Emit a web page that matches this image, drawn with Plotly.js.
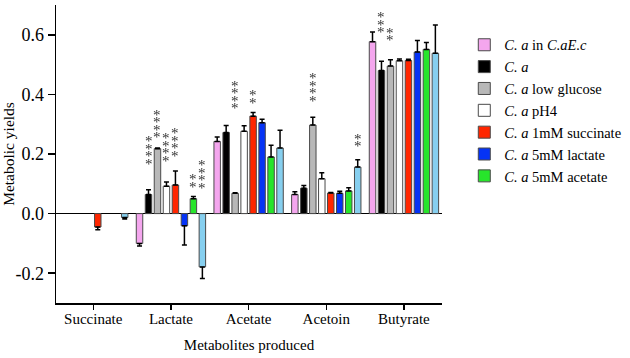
<!DOCTYPE html>
<html>
<head>
<meta charset="utf-8">
<script src="https://cdn.plot.ly/plotly-3.0.1.min.js"></script>
<style>
  html, body { margin: 0; padding: 0; background: #fff; }
  #chart { width: 630px; height: 358px; }
  /* greyscale text rendering for the significance stars */
  #chart .annotation { filter: grayscale(100%); opacity: 0.99; }
</style>
</head>
<body>
<div id="chart"></div>
<script>
// Metabolites on the x axis
const metabolites = ['Succinate', 'Lactate', 'Acetate', 'Acetoin', 'Butyrate'];

// Culture conditions (legend labels); the last one has no legend entry
const conditionNames = [
  '<i>C. a</i> in <i>C.aE.c</i>',
  '<i>C. a</i>',
  '<i>C. a</i> low glucose',
  '<i>C. a</i> pH4',
  '<i>C. a</i> 1mM succinate',
  '<i>C. a</i> 5mM lactate',
  '<i>C. a</i> 5mM acetate',
  'C. a (additional)'
];

// Mean metabolic yields per metabolite (null = not detected)
const yieldCoculture  = [null, -0.100, 0.242, 0.064, 0.577];
const yieldMono       = [null,  0.064, 0.272, 0.085, 0.480];
const yieldLowGlucose = [null,  0.218, 0.068, 0.297, 0.495];
const yieldPH4        = [null,  0.092, 0.276, 0.117, 0.513];
const yieldSuccinate  = [-0.045, 0.096, 0.327, 0.069, 0.514];
const yieldLactate    = [null, -0.041, 0.305, 0.068, 0.542];
const yieldAcetate    = [null,  0.050, 0.190, 0.076, 0.551];
const yieldExtra      = [-0.013, -0.179, 0.220, 0.156, 0.538];

// Error (SD) per metabolite
const errCoculture  = [0.000, 0.009, 0.015, 0.009, 0.032];
const errMono       = [0.000, 0.016, 0.024, 0.009, 0.031];
const errLowGlucose = [0.000, 0.002, 0.002, 0.026, 0.021];
const errPH4        = [0.000, 0.014, 0.019, 0.020, 0.006];
const errSuccinate  = [0.009, 0.047, 0.012, 0.002, 0.004];
const errLactate    = [0.000, 0.064, 0.012, 0.007, 0.039];
const errAcetate    = [0.000, 0.007, 0.039, 0.011, 0.023];
const errExtra      = [0.005, 0.039, 0.060, 0.025, 0.095];

// Significance marks: metabolite index, condition index, number of stars
const sigMetabolite = [1, 1, 1, 1, 1, 1, 2, 2, 3, 3, 4, 4];
const sigCondition  = [1, 2, 3, 4, 6, 7, 2, 4, 2, 7, 1, 2];
const sigStars      = [4, 4, 4, 4, 2, 4, 4, 2, 4, 2, 3, 2];

// Y axis ticks
const yTickVals = [-0.2, 0, 0.2, 0.4, 0.6];
const yTickText = ['-0.2', '0.0', '0.2', '0.4', '0.6'];

const allYields = [yieldCoculture, yieldMono, yieldLowGlucose, yieldPH4,
                   yieldSuccinate, yieldLactate, yieldAcetate, yieldExtra];
const allErrors = [errCoculture, errMono, errLowGlucose, errPH4,
                   errSuccinate, errLactate, errAcetate, errExtra];

const fillColors = ['#F4A6EE', '#000000', '#B8B8B8', '#FFFFFF',
                    '#FF2600', '#0533F5', '#27E52B', '#86CFEF'];

const FONT = 'Liberation Serif, Times New Roman, serif';
const BARGAP = 0.075;

const traces = allYields.map((vals, i) => {
  const err = allErrors[i];
  return {
    type: 'bar',
    name: conditionNames[i],
    x: metabolites,
    y: vals,
    showlegend: i < 7,
    marker: { color: fillColors[i], line: { color: '#4a4a4a', width: 1 } },
    error_y: {
      type: 'data',
      symmetric: false,
      array: vals.map((v, k) => v !== null && v >= 0 ? err[k] : 0),
      arrayminus: vals.map((v, k) => v !== null && v < 0 ? err[k] : 0),
      color: '#000',
      thickness: 1.5,
      width: 2.5
    },
    hoverinfo: 'skip'
  };
});

// Vertical centre of each star stack (data units)
const starLevels = [0.215, 0.304, 0.226, 0.242, 0.113, 0.134, 0.401, 0.395, 0.426, 0.249, 0.643, 0.604];
const STAR_PITCH = 7.5;   // px between stacked stars

const nCond = allYields.length;
const slot = (1 - BARGAP) / nCond;
const annotations = [];
sigStars.forEach((n, j) => {
  const xPos = sigMetabolite[j] + (sigCondition[j] - (nCond - 1) / 2) * slot;
  for (let k = 0; k < n; k++) {
    annotations.push({
      x: xPos, y: starLevels[j],
      xref: 'x', yref: 'y',
      text: '*',
      showarrow: false,
      xanchor: 'center', yanchor: 'middle',
      yshift: ((n - 1) / 2 - k) * STAR_PITCH - 3,
      font: { family: FONT, size: 15, color: '#333' }
    });
  }
});

const layout = {
  width: 630, height: 358,
  margin: { l: 56, r: 187, t: 5, b: 55 },
  paper_bgcolor: '#fff', plot_bgcolor: '#fff',
  font: { family: FONT, size: 15, color: '#000' },
  barmode: 'group',
  bargap: BARGAP,
  bargroupgap: 0.28,
  showlegend: true,
  legend: {
    x: 1.055, xanchor: 'left', y: 0.92, yanchor: 'top',
    font: { family: FONT, size: 14.5, color: '#000' },
    bgcolor: 'rgba(0,0,0,0)', borderwidth: 0,
    traceorder: 'normal'
  },
  xaxis: {
    type: 'category',
    range: [-0.48, 4.49],
    showline: true, linecolor: '#000', linewidth: 1.5,
    ticks: 'outside', ticklen: 5, tickwidth: 1.5, tickcolor: '#000',
    ticklabelstandoff: -4,
    showgrid: false, zeroline: false,
    tickfont: { family: FONT, size: 15 },
    title: { text: 'Metabolites produced', font: { family: FONT, size: 15 }, standoff: 14 }
  },
  yaxis: {
    range: [-0.3, 0.7],
    tickvals: yTickVals, ticktext: yTickText,
    showline: true, linecolor: '#000', linewidth: 1.5,
    ticks: 'outside', ticklen: 7, tickwidth: 1.5, tickcolor: '#000',
    showgrid: false,
    zeroline: true, zerolinecolor: '#000', zerolinewidth: 1.5,
    tickfont: { family: FONT, size: 18 },
    title: { text: 'Metabolic yields', font: { family: FONT, size: 15.5 }, standoff: 4 }
  },
  annotations: annotations
};

Plotly.newPlot('chart', traces, layout, { displayModeBar: false, staticPlot: true });
</script>
</body>
</html>
